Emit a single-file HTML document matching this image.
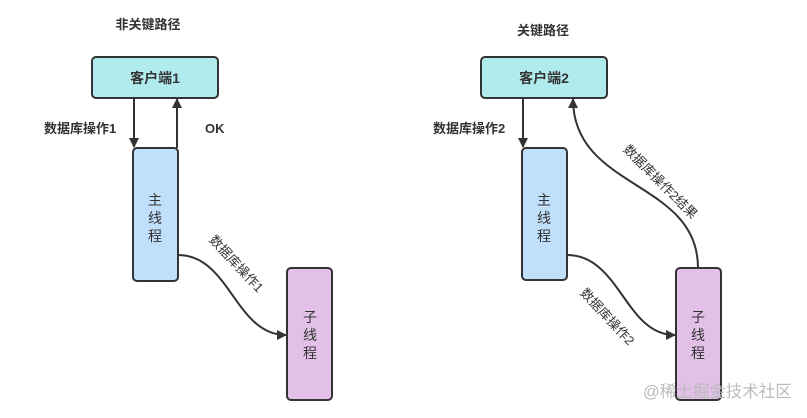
<!DOCTYPE html>
<html><head><meta charset="utf-8"><style>
html,body{margin:0;padding:0;background:#fff;}
svg text{font-family:"Liberation Sans","Noto Sans CJK SC",sans-serif;fill:#333;}
</style></head><body>
<svg width="807" height="413" xmlns="http://www.w3.org/2000/svg">
<defs><marker id="a" markerWidth="10" markerHeight="10" refX="9" refY="5" orient="auto" markerUnits="userSpaceOnUse"><path d="M0,0 L10,5 L0,10 Z" fill="#333"/></marker></defs>
<text x="148" y="29" font-size="13" text-anchor="middle" font-weight="bold">非关键路径</text>
<text x="543" y="35" font-size="13" text-anchor="middle" font-weight="bold">关键路径</text>
<rect x="92" y="57" width="126" height="41" rx="4" fill="#b0ebee" stroke="#333" stroke-width="2"/>
<text x="155" y="83" font-size="14" text-anchor="middle" font-weight="bold">客户端1</text>
<rect x="133" y="148" width="45" height="133" rx="4" fill="#bfdffa" stroke="#333" stroke-width="2"/>
<text x="155" y="205" font-size="14" text-anchor="middle">主</text>
<text x="155" y="223" font-size="14" text-anchor="middle">线</text>
<text x="155" y="241" font-size="14" text-anchor="middle">程</text>
<rect x="287" y="268" width="45" height="132" rx="4" fill="#e2c0e8" stroke="#333" stroke-width="2"/>
<text x="310" y="322" font-size="14" text-anchor="middle">子</text>
<text x="310" y="340" font-size="14" text-anchor="middle">线</text>
<text x="310" y="358" font-size="14" text-anchor="middle">程</text>
<line x1="134" y1="98" x2="134" y2="147" stroke="#333" stroke-width="2" marker-end="url(#a)"/>
<line x1="177" y1="148" x2="177" y2="99" stroke="#333" stroke-width="2" marker-end="url(#a)"/>
<text x="44" y="133" font-size="13" font-weight="bold">数据库操作1</text>
<text x="205" y="133" font-size="13" font-weight="bold">OK</text>
<path d="M178,255 C230,255 235,335 286,335" fill="none" stroke="#333" stroke-width="2" marker-end="url(#a)"/>
<text transform="translate(236,264) rotate(47)" font-size="13" text-anchor="middle" dy="4">数据库操作1</text>

<rect x="481" y="57" width="126" height="41" rx="4" fill="#b0ebee" stroke="#333" stroke-width="2"/>
<text x="544" y="83" font-size="14" text-anchor="middle" font-weight="bold">客户端2</text>
<rect x="522" y="148" width="45" height="132" rx="4" fill="#bfdffa" stroke="#333" stroke-width="2"/>
<text x="544" y="205" font-size="14" text-anchor="middle">主</text>
<text x="544" y="223" font-size="14" text-anchor="middle">线</text>
<text x="544" y="241" font-size="14" text-anchor="middle">程</text>
<rect x="676" y="268" width="45" height="132" rx="4" fill="#e2c0e8" stroke="#333" stroke-width="2"/>
<text x="698" y="322" font-size="14" text-anchor="middle">子</text>
<text x="698" y="340" font-size="14" text-anchor="middle">线</text>
<text x="698" y="358" font-size="14" text-anchor="middle">程</text>
<line x1="523" y1="98" x2="523" y2="147" stroke="#333" stroke-width="2" marker-end="url(#a)"/>
<text x="433" y="133" font-size="13" font-weight="bold">数据库操作2</text>
<path d="M567,255 C620,255 625,335 675,335" fill="none" stroke="#333" stroke-width="2" marker-end="url(#a)"/>
<text transform="translate(607,317) rotate(47)" font-size="13" text-anchor="middle" dy="4">数据库操作2</text>
<path d="M698,268 C698,180 573,190 573,99" fill="none" stroke="#333" stroke-width="2" marker-end="url(#a)"/>
<text transform="translate(660,182) rotate(45)" font-size="13" text-anchor="middle" dy="4">数据库操作2结果</text>
<text x="643" y="397" font-size="16.5" style="fill:#bbb">@稀土掘金技术社区</text>
</svg>
</body></html>
